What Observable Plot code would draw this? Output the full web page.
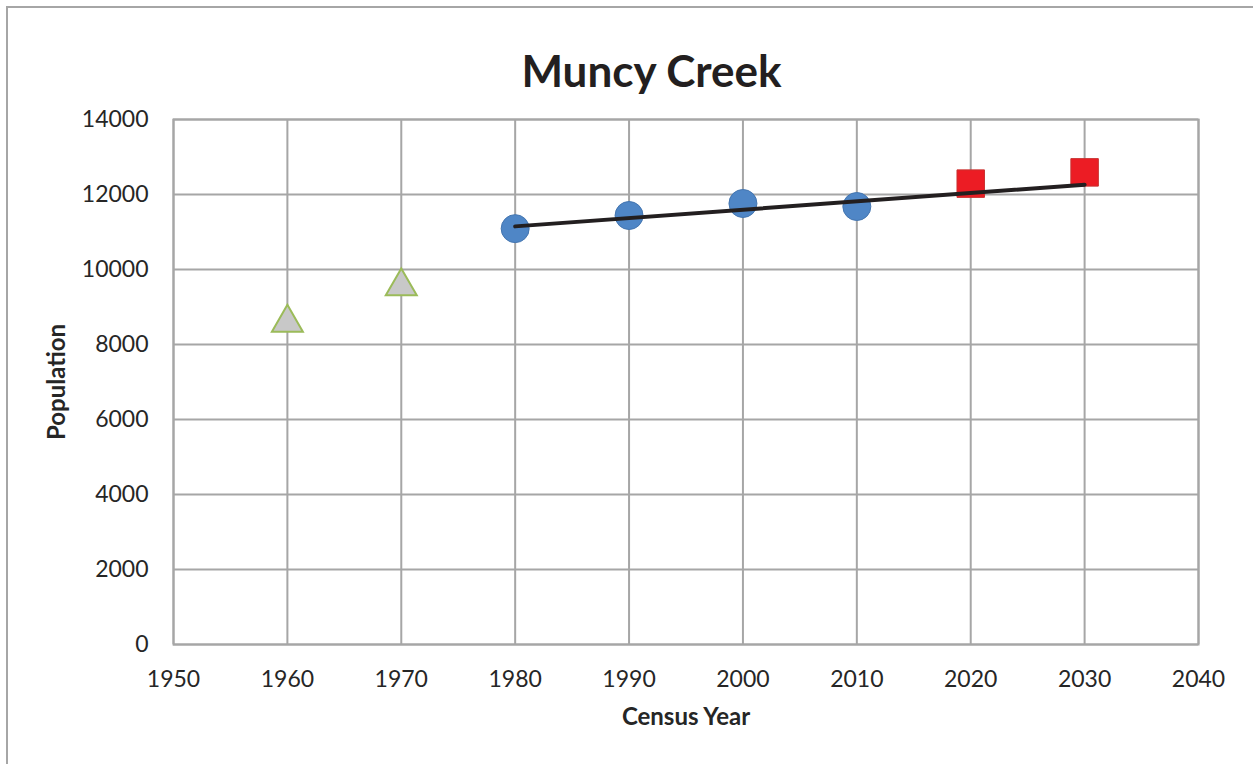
<!DOCTYPE html>
<html>
<head>
<meta charset="utf-8">
<script src="https://cdn.jsdelivr.net/npm/d3@7"></script>
<script src="https://cdn.jsdelivr.net/npm/@observablehq/plot@0.6"></script>
<style>
  html, body { margin: 0; padding: 0; background: #fff; overflow: hidden; }
  #wrap { position: relative; width: 1253px; height: 764px; overflow: hidden; }
  #border { position: absolute; left: 6px; top: 6px; width: 1400px; height: 900px; border: 2px solid #a6a6a6; pointer-events: none; }
  #title { position: absolute; left: 50px; top: 0; width: 1203px; height: 100px; text-align: center;
           font-family: Lato, sans-serif; font-weight: bold; font-size: 44px; line-height: 140px; color: #231f20; }
  #chart { position: absolute; left: 0; top: 100px; }
</style>
</head>
<body>
<div id="wrap">
  <div id="title">Muncy Creek</div>
  <div id="chart"></div>
  <div id="border"></div>
</div>
<script>
// Historic census (triangles)
const earlyYears = [1960, 1970];
const earlyPop = [8580, 9550];
// Census (circles)
const censusYears = [1980, 1990, 2000, 2010];
const censusPop = [11090, 11440, 11760, 11680];
// Projections (squares)
const projYears = [2020, 2030];
const projPop = [12290, 12590];
// Trend line endpoints
const trendYears = [1980, 2030];
const trendPop = [11150, 12260];
// Ticks
const xTicks = [1950, 1960, 1970, 1980, 1990, 2000, 2010, 2020, 2030, 2040];
const yTicks = [0, 2000, 4000, 6000, 8000, 10000, 12000, 14000];

const early = earlyYears.map((y, i) => ({year: y, pop: earlyPop[i]}));
const census = censusYears.map((y, i) => ({year: y, pop: censusPop[i]}));
const proj = projYears.map((y, i) => ({year: y, pop: projPop[i]}));
const trend = trendYears.map((y, i) => ({year: y, pop: trendPop[i]}));

const gridColor = "#a6a6a6";
const chart = Plot.plot({
  width: 1253,
  height: 664,
  marginLeft: 173,
  marginRight: 55,
  marginTop: 19,
  marginBottom: 120,
  style: {fontFamily: "Lato, sans-serif", fontSize: "23px", color: "#262626", background: "transparent"},
  x: {domain: [1950, 2040], ticks: xTicks, tickFormat: d => String(d), label: null},
  y: {domain: [0, 14000], ticks: yTicks, tickFormat: d => String(d), label: null},
  marks: [
    Plot.gridX(xTicks, {stroke: gridColor, strokeOpacity: 1, strokeWidth: 2}),
    Plot.gridY(yTicks, {stroke: gridColor, strokeOpacity: 1, strokeWidth: 2}),
    Plot.frame({stroke: gridColor, strokeWidth: 2}),
    Plot.axisX(xTicks, {tickSize: 0, tickPadding: 26, fontSize: 23, tickFormat: d => String(d), fill: "#262626"}),
    Plot.axisY(yTicks, {tickSize: 0, tickPadding: 25, fontSize: 23, tickFormat: d => String(d), fill: "#262626"}),
    Plot.text(["Census Year"], {frameAnchor: "bottom", textAnchor: "middle", dy: 80, fontWeight: "bold", fontSize: 24, fill: "#262626"}),
    Plot.text(["Population"], {frameAnchor: "left", textAnchor: "middle", dx: -116, rotate: -90, fontWeight: "bold", fontSize: 24, fill: "#262626"}),
    Plot.dot(early, {x: "year", y: "pop", symbol: "triangle", r: 11.5, fill: "#c8c8c8", stroke: "#9bbb59", strokeWidth: 2}),
    Plot.dot(census, {x: "year", y: "pop", symbol: "circle", r: 14, fill: "#4f86c6", stroke: "#4576b0", strokeWidth: 1}),
    Plot.dot(proj, {x: "year", y: "pop", symbol: "square", r: 15.5, fill: "#ec1c24", stroke: "#c9302f", strokeWidth: 1}),
    Plot.line(trend, {x: "year", y: "pop", stroke: "#231f20", strokeWidth: 4})
  ]
});
document.getElementById("chart").appendChild(chart);
</script>
</body>
</html>
